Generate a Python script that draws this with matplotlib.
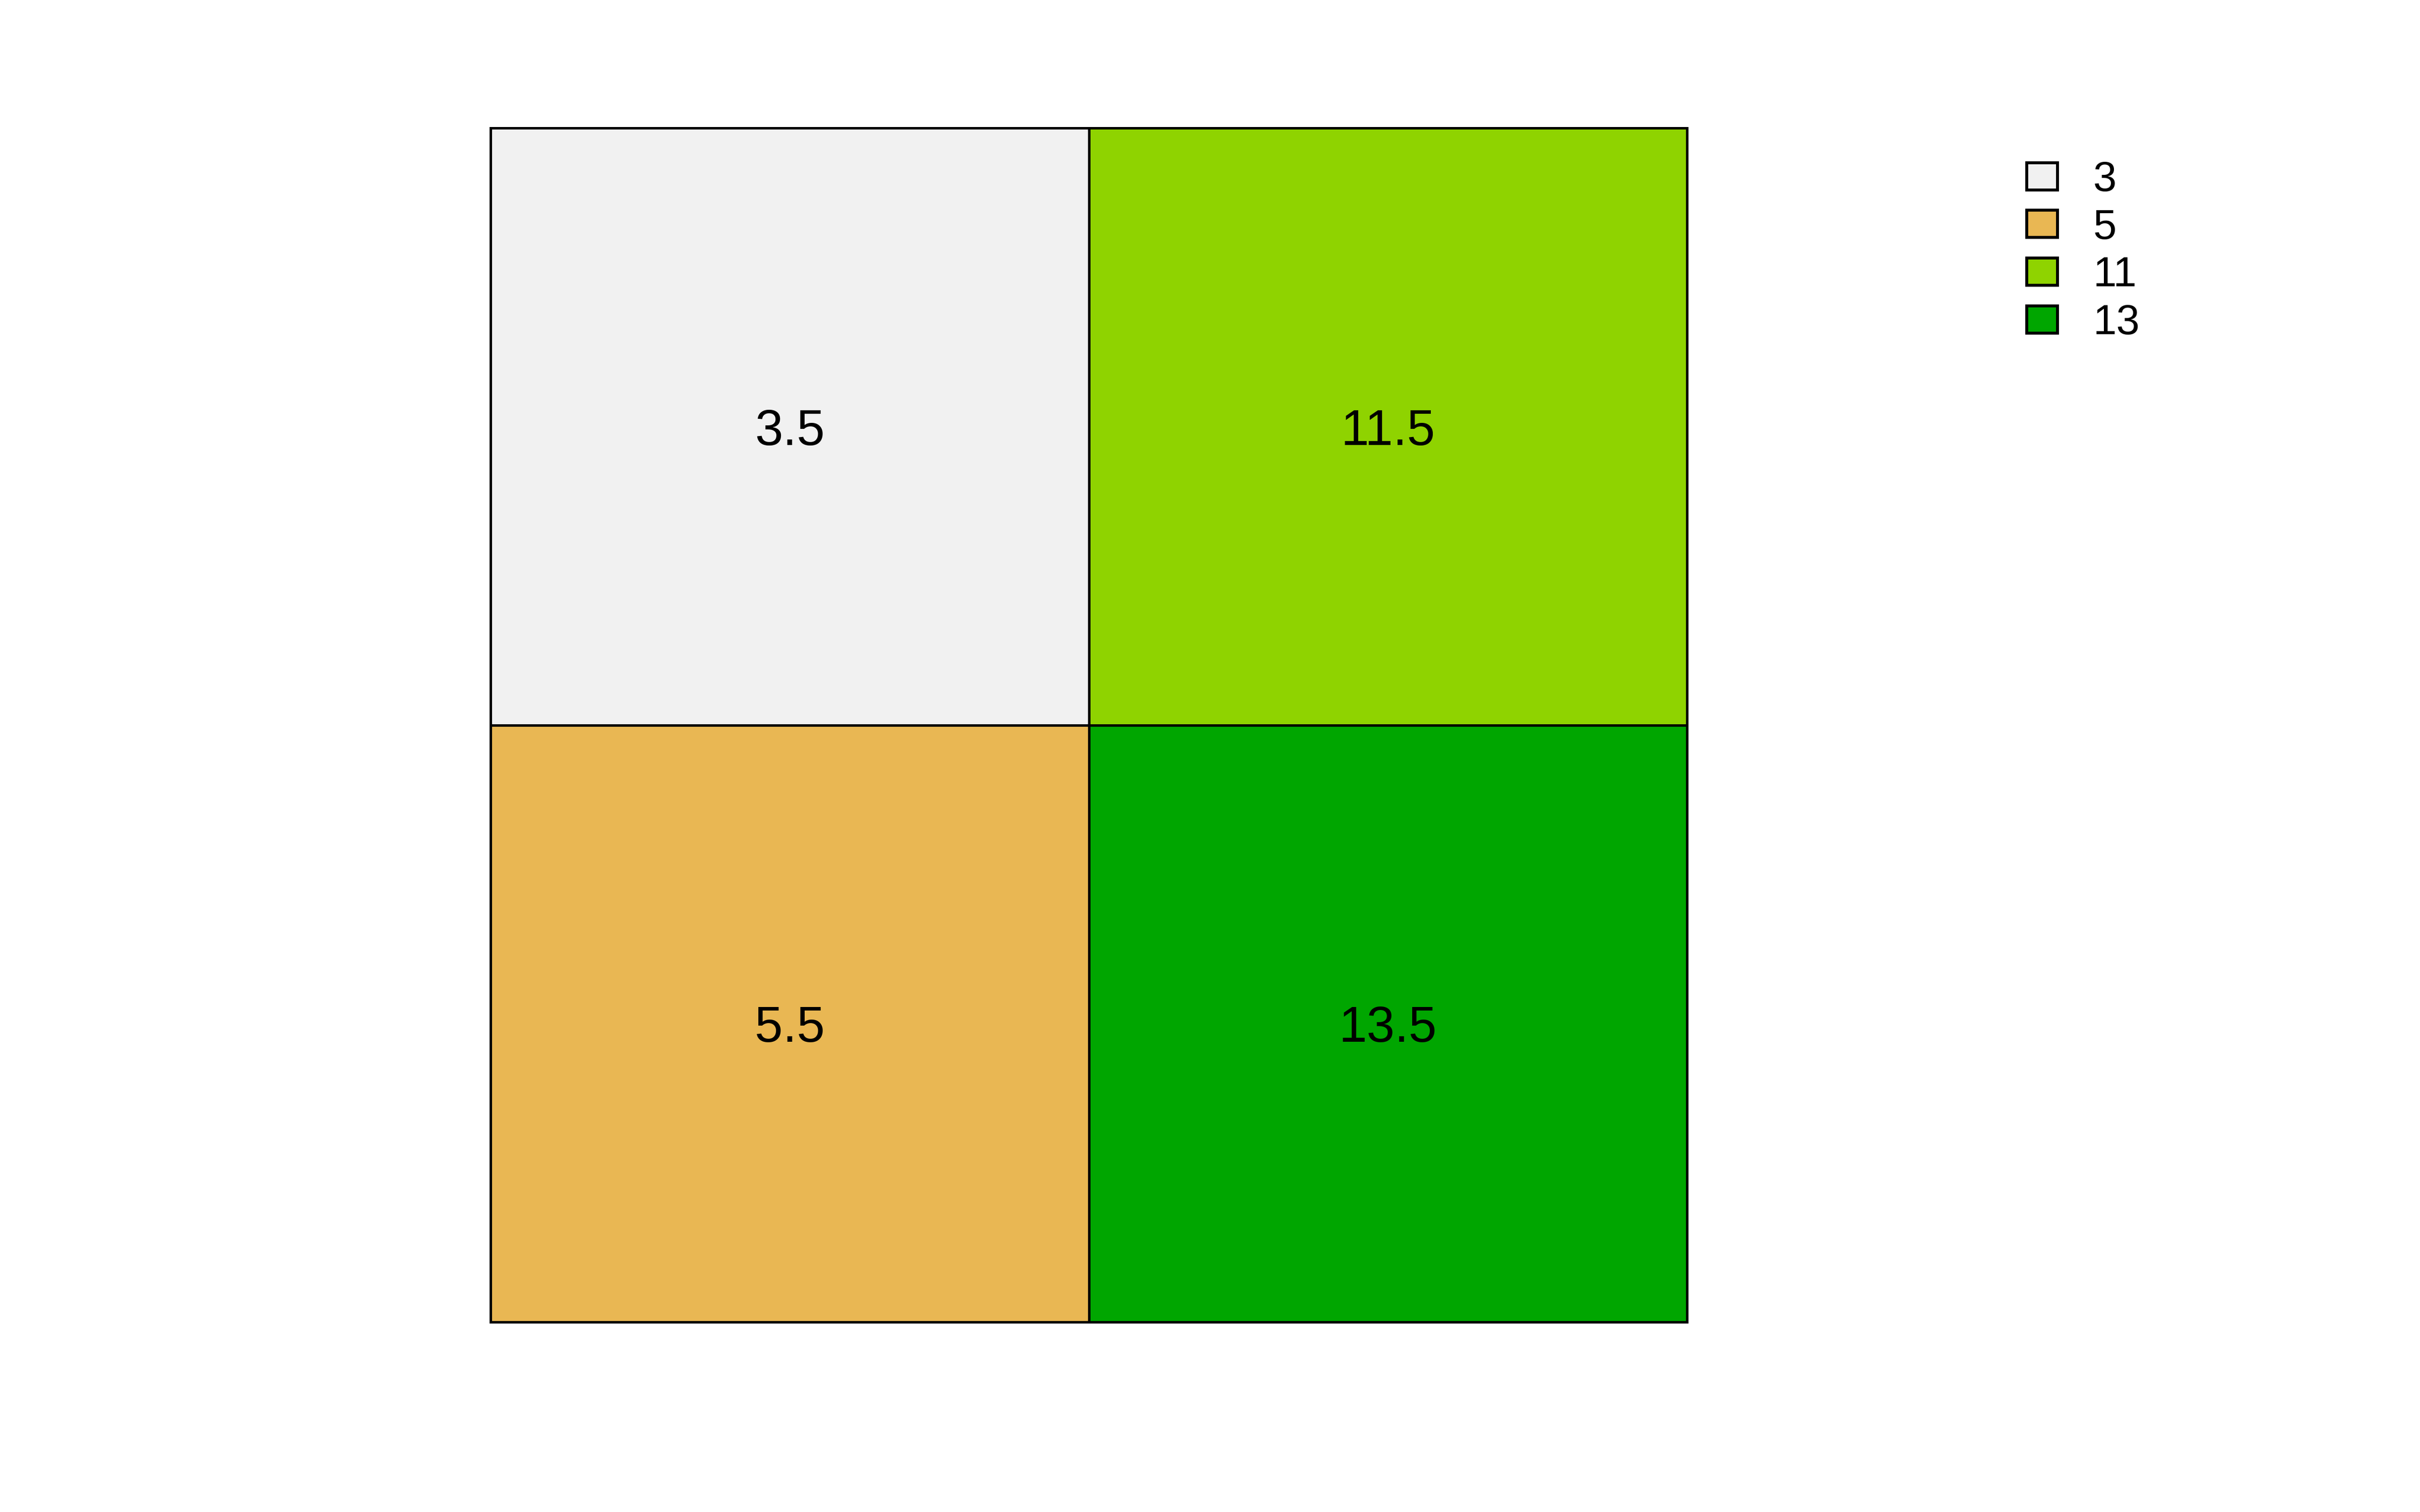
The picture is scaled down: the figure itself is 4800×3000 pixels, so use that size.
import numpy as np
import matplotlib.pyplot as plt
from matplotlib.colors import ListedColormap, BoundaryNorm
from matplotlib.patches import Patch

plt.rcParams['font.family'] = ['Liberation Sans', 'DejaVu Sans']

# cell values, top row first
cell_values = np.array([[3.5, 11.5],
                        [5.5, 13.5]])
classes = [3, 5, 11, 13]
class_colors = ['#F1F1F1', '#E9B753', '#8FD300', '#00A600']

cmap = ListedColormap(class_colors)
norm = BoundaryNorm(classes + [14], cmap.N)

fig = plt.figure(figsize=(16, 10), dpi=300)
ax = fig.add_axes([0.2027, 0.1257, 0.4944, 0.7896])

nrow, ncol = cell_values.shape
# flip so the first row is drawn on top
ax.pcolormesh(np.arange(ncol + 1), np.arange(nrow + 1), cell_values[::-1],
              cmap=cmap, norm=norm, edgecolors='black', linewidth=1.2)
for i in range(nrow):
    for j in range(ncol):
        ax.text(j + 0.5, nrow - i - 0.5, f'{cell_values[i, j]:g}',
                ha='center', va='center_baseline', fontsize=24)

ax.set_xlim(0, ncol)
ax.set_ylim(0, nrow)
ax.set_xticks([])
ax.set_yticks([])
for s in ax.spines.values():
    s.set_linewidth(1.2)

handles = [Patch(facecolor=c, edgecolor='black', linewidth=1.4) for c in class_colors]
fig.legend(handles, [str(c) for c in classes], loc='upper left',
           bbox_to_anchor=(0.8375, 0.894), frameon=False, fontsize=20,
           handlelength=0.73, handleheight=0.62, handletextpad=0.85,
           labelspacing=0.2, borderpad=0, borderaxespad=0)

fig.savefig('out.png', dpi=300)
